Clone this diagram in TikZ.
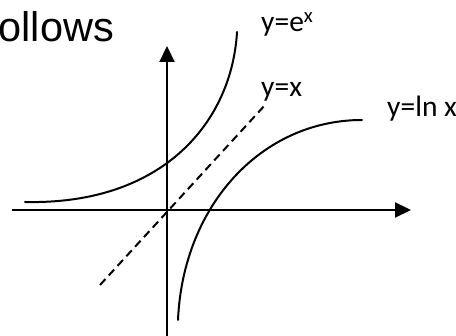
\documentclass[tikz,border=0pt]{standalone}
\usepackage{fontspec}
\setmainfont{Liberation Sans}
\newfontfamily\labelfont{Carlito}
\usetikzlibrary{arrows.meta}
\begin{document}
\begin{tikzpicture}[x=1pt,y=-1pt,
  axisline/.style={line width=2.2pt,-{Triangle[length=16pt,width=15pt]}},
  curveline/.style={line width=2pt,line cap=round},
  diagline/.style={line width=2pt,dash pattern=on 8pt off 5pt},
  lbl/.style={inner sep=0pt,anchor=base west,font=\labelfont\fontsize{29.5}{34}\selectfont},
  heading/.style={inner sep=0pt,anchor=base west,font=\fontsize{41.5}{48}\selectfont}]
\useasboundingbox (0,0) rectangle (456,336);
\fill[white] (0,0) rectangle (456,336);
% heading text
\node[heading] (title) at (-1.5,42) {ollows};
% axes
\coordinate (ybot) at (167,337);
\coordinate (ytop) at (167,46);
\coordinate (xleft) at (12,210);
\coordinate (xright) at (411,210);
\draw[axisline] (ybot) -- (ytop);
\draw[axisline] (xleft) -- (xright);
% y = x
\coordinate (dA) at (100,285);
\coordinate (dB) at (266,104);
\draw[diagline] (dA) -- (dB);
% y = e^x
\coordinate (eA) at (25,202);
\coordinate (eB) at (237,32);
\draw[curveline] (eA) .. controls (165,205) and (232,120) .. (eB);
% y = ln x
\coordinate (lA) at (178,320);
\coordinate (lB) at (362,120);
\draw[curveline] (lA) .. controls (183,205) and (262,120) .. (lB);
% labels
\node[lbl] (lexp) at (261,32) {y=e\textsuperscript{x}};
\node[lbl] (lid) at (261,97) {y=x};
\node[lbl] (lln) at (387,117) {y=ln x};
\end{tikzpicture}
\end{document}
